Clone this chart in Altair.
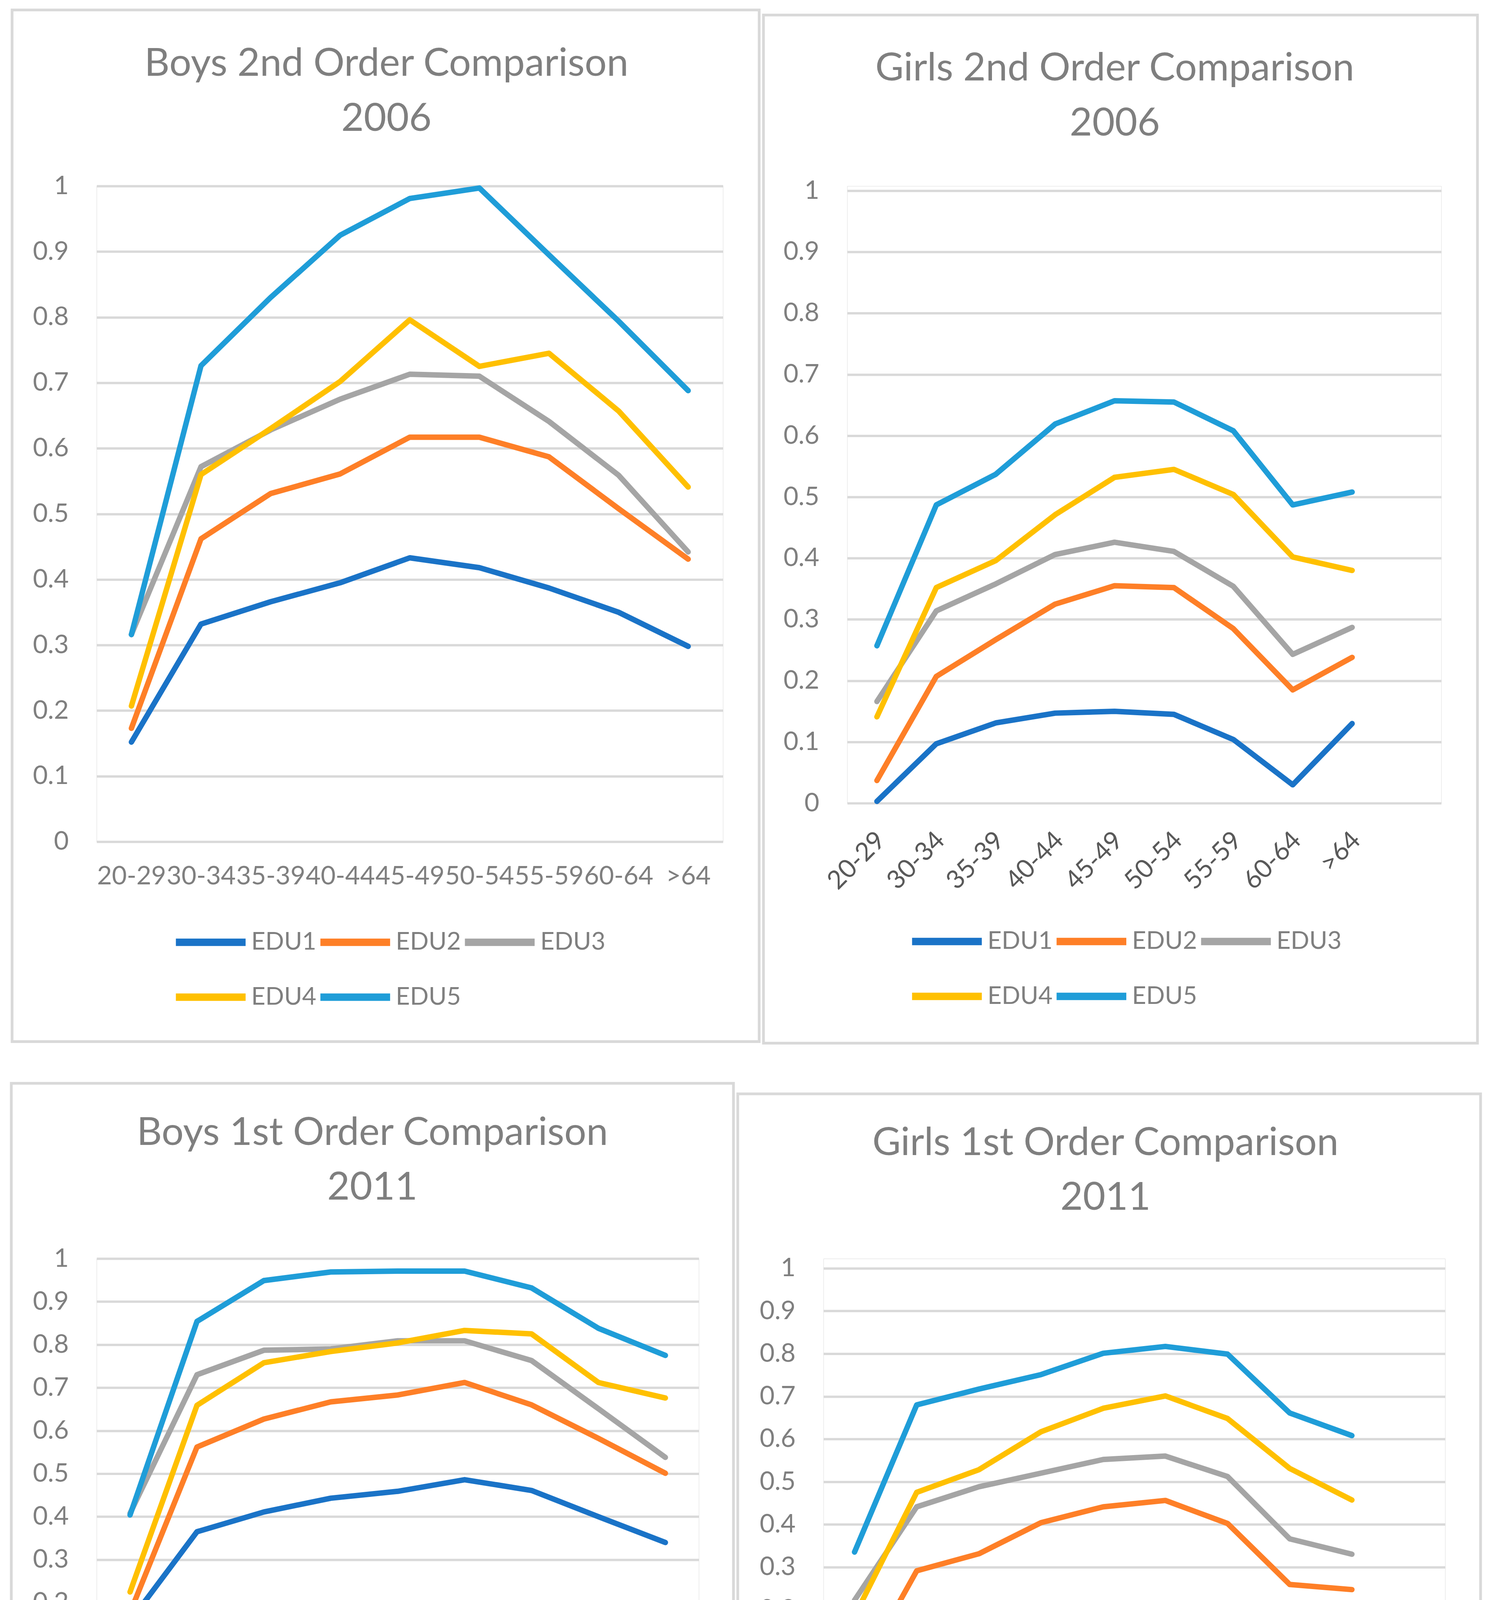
import altair as alt
import pandas as pd

AGES = ["20-29", "30-34", "35-39", "40-44", "45-49", "50-54", "55-59", "60-64", ">64"]
SERIES = ["EDU1", "EDU2", "EDU3", "EDU4", "EDU5"]
COLORS = ["#1A73C7", "#FE7F27", "#A5A5A5", "#FFC000", "#1F9DD8"]

# Boys 2nd Order Comparison 2006
boys_2006_edu1 = [0.152, 0.332, 0.366, 0.395, 0.433, 0.418, 0.387, 0.350, 0.298]
boys_2006_edu2 = [0.173, 0.462, 0.531, 0.561, 0.617, 0.617, 0.587, 0.508, 0.431]
boys_2006_edu3 = [0.316, 0.572, 0.628, 0.675, 0.713, 0.710, 0.641, 0.559, 0.442]
boys_2006_edu4 = [0.207, 0.560, 0.630, 0.702, 0.796, 0.725, 0.745, 0.657, 0.541]
boys_2006_edu5 = [0.316, 0.726, 0.830, 0.925, 0.981, 0.997, 0.895, 0.794, 0.688]

# Girls 2nd Order Comparison 2006
girls_2006_edu1 = [0.003, 0.097, 0.131, 0.147, 0.150, 0.145, 0.104, 0.030, 0.130]
girls_2006_edu2 = [0.037, 0.207, 0.267, 0.325, 0.355, 0.352, 0.285, 0.185, 0.238]
girls_2006_edu3 = [0.166, 0.314, 0.358, 0.406, 0.426, 0.411, 0.354, 0.243, 0.287]
girls_2006_edu4 = [0.141, 0.352, 0.396, 0.471, 0.532, 0.545, 0.504, 0.402, 0.380]
girls_2006_edu5 = [0.257, 0.487, 0.537, 0.619, 0.657, 0.655, 0.608, 0.487, 0.508]

# Boys 1st Order Comparison 2011
boys_2011_edu1 = [0.157, 0.365, 0.411, 0.443, 0.459, 0.486, 0.461, 0.400, 0.340]
boys_2011_edu2 = [0.177, 0.562, 0.627, 0.667, 0.683, 0.712, 0.660, 0.582, 0.501]
boys_2011_edu3 = [0.408, 0.730, 0.787, 0.790, 0.809, 0.809, 0.763, 0.651, 0.538]
boys_2011_edu4 = [0.225, 0.659, 0.758, 0.784, 0.804, 0.833, 0.825, 0.712, 0.676]
boys_2011_edu5 = [0.404, 0.854, 0.949, 0.969, 0.971, 0.971, 0.932, 0.838, 0.775]

# Girls 1st Order Comparison 2011
girls_2011_edu1 = [0.012, 0.134, 0.174, 0.184, 0.193, 0.190, 0.144, 0.056, 0.126]
girls_2011_edu2 = [0.029, 0.291, 0.331, 0.404, 0.441, 0.456, 0.402, 0.259, 0.247]
girls_2011_edu3 = [0.222, 0.441, 0.488, 0.520, 0.552, 0.560, 0.512, 0.366, 0.330]
girls_2011_edu4 = [0.185, 0.475, 0.528, 0.617, 0.672, 0.701, 0.648, 0.531, 0.457]
girls_2011_edu5 = [0.335, 0.680, 0.717, 0.751, 0.801, 0.817, 0.799, 0.661, 0.608]

Y_TICKS = [i / 10 for i in range(11)]

FONT = "Lato"
TEXT_GRAY = "#7F7F7F"
DARK_GRAY = "#595959"
GRID = "#D9D9D9"


def make_panel(series_values, title_lines, plot_w, group_h, y_top, blank_slot, label_mode,
               cell, border, title_xy, legend_xy):
    rows = []
    for name, vals in zip(SERIES, series_values):
        for age, v in zip(AGES, vals):
            rows.append({"Age": age, "Series": name, "Value": v})
    df = pd.DataFrame(rows)
    domain = AGES + ([" "] if blank_slot else [])

    axis_common = dict(domain=False, ticks=False, tickSize=0, grid=False,
                       labelFont=FONT, labelFontSize=66, title=None, labelOverlap=False)
    if label_mode == "flat":
        x_axis = alt.Axis(labelAngle=0, labelColor=TEXT_GRAY, labelPadding=57,
                          labelAlign="center", labelBaseline="top", **axis_common)
    elif label_mode == "rot":
        x_axis = alt.Axis(labelAngle=-45, labelColor=DARK_GRAY, labelPadding=62,
                          labelOffset=-12, labelAlign="right", labelBaseline="top",
                          **axis_common)
    else:
        x_axis = alt.Axis(labelAngle=0, labelColor=TEXT_GRAY, labelPadding=58,
                          labelAlign="center", labelBaseline="top", labelLineHeight=90,
                          labelExpr="datum.value == '>64' || datum.value == ' ' ? datum.value : [slice(datum.value, 0, 3), slice(datum.value, 3)]",
                          **axis_common)

    y_axis = alt.Axis(values=Y_TICKS, format="~g", domain=False, ticks=False, tickSize=0,
                      grid=True, gridColor=GRID, gridWidth=6,
                      labelFont=FONT, labelFontSize=66, labelColor=TEXT_GRAY,
                      labelPadding=72, title=None)

    lines = alt.Chart(df).mark_line(strokeWidth=14, strokeCap="round", strokeJoin="round").encode(
        x=alt.X("Age:N", sort=domain,
                scale=alt.Scale(type="point", domain=domain, padding=0.5), axis=x_axis),
        y=alt.Y("Value:Q",
                scale=alt.Scale(domain=[0, 1], nice=False, zero=True, range=[group_h, y_top]),
                axis=y_axis),
        color=alt.Color("Series:N",
                        scale=alt.Scale(domain=SERIES, range=COLORS),
                        legend=alt.Legend(orient="none", legendX=legend_xy[0], legendY=legend_xy[1],
                                          direction="horizontal", columns=3, title=None,
                                          symbolType="stroke", symbolSize=32041,
                                          symbolStrokeWidth=19, labelFont=FONT,
                                          labelFontSize=63, labelColor=TEXT_GRAY,
                                          labelLimit=0, labelOffset=5,
                                          columnPadding=-56, rowPadding=4,
                                          padding=0, offset=0)),
    )

    one = pd.DataFrame({"k": [0]})
    cell_rect = alt.Chart(one).mark_rect(fill="white", opacity=0, strokeWidth=0).encode(
        x=alt.value(cell[0]), x2=alt.value(cell[1]), y=alt.value(cell[2]), y2=alt.value(cell[3])
    )
    border_rect = alt.Chart(one).mark_rect(filled=False, fill="transparent", stroke=GRID,
                                           strokeWidth=7).encode(
        x=alt.value(border[0]), x2=alt.value(border[1]), y=alt.value(border[2]), y2=alt.value(border[3])
    )
    title = alt.Chart(one).mark_text(font=FONT, fontSize=100, color=TEXT_GRAY, align="center",
                                     baseline="alphabetic", lineHeight=141).encode(
        x=alt.value(title_xy[0]), y=alt.value(title_xy[1]), text=alt.value(title_lines)
    )
    return alt.layer(cell_rect, border_rect, title, lines).properties(width=plot_w, height=group_h)


p1 = make_panel([boys_2006_edu1, boys_2006_edu2, boys_2006_edu3, boys_2006_edu4, boys_2006_edu5],
                ["Boys 2nd Order Comparison", "2006"], 1608, 1683, 0, False, "flat",
                cell=(-239, 1706, -462, 2248), border=(-217, 1701, -452, 2196),
                title_xy=(744, -283), legend_xy=(194, 1842))
p2 = make_panel([girls_2006_edu1, girls_2006_edu2, girls_2006_edu3, girls_2006_edu4, girls_2006_edu5],
                ["Girls 2nd Order Comparison", "2006"], 1525, 1584, 12, True, "rot",
                cell=(-219, 1648, -462, 2248), border=(-215, 1618, -439, 2200),
                title_xy=(687, -271), legend_xy=(157, 1840))
p3 = make_panel([boys_2011_edu1, boys_2011_edu2, boys_2011_edu3, boys_2011_edu4, boys_2011_edu5],
                ["Boys 1st Order Comparison", "2011"], 1546, 1104, 0, False, "rot",
                cell=(-233, 1640, -503, 1737), border=(-219, 1635, -450, 1710),
                title_xy=(708, -292), legend_xy=(164, 1359))
p4 = make_panel([girls_2011_edu1, girls_2011_edu2, girls_2011_edu3, girls_2011_edu4, girls_2011_edu5],
                ["Girls 1st Order Comparison", "2011"], 1596, 1120, 25, True, "wrap",
                cell=(-224, 1715, -503, 1737), border=(-220, 1687, -423, 1725),
                title_xy=(724, -266), legend_xy=(190, 1369))

row1 = alt.hconcat(p1, p2, spacing=0).resolve_scale(
    color="independent", x="independent", y="independent").resolve_legend(color="independent")
row2 = alt.hconcat(p3, p4, spacing=0).resolve_scale(
    color="independent", x="independent", y="independent").resolve_legend(color="independent")

chart = alt.vconcat(row1, row2, spacing=0).resolve_scale(
    color="independent", x="independent", y="independent"
).resolve_legend(color="independent").properties(padding=0).configure_view(
    stroke=None
).configure(font=FONT)

chart.save("out.html", embed_options={"renderer": "svg", "actions": False})
